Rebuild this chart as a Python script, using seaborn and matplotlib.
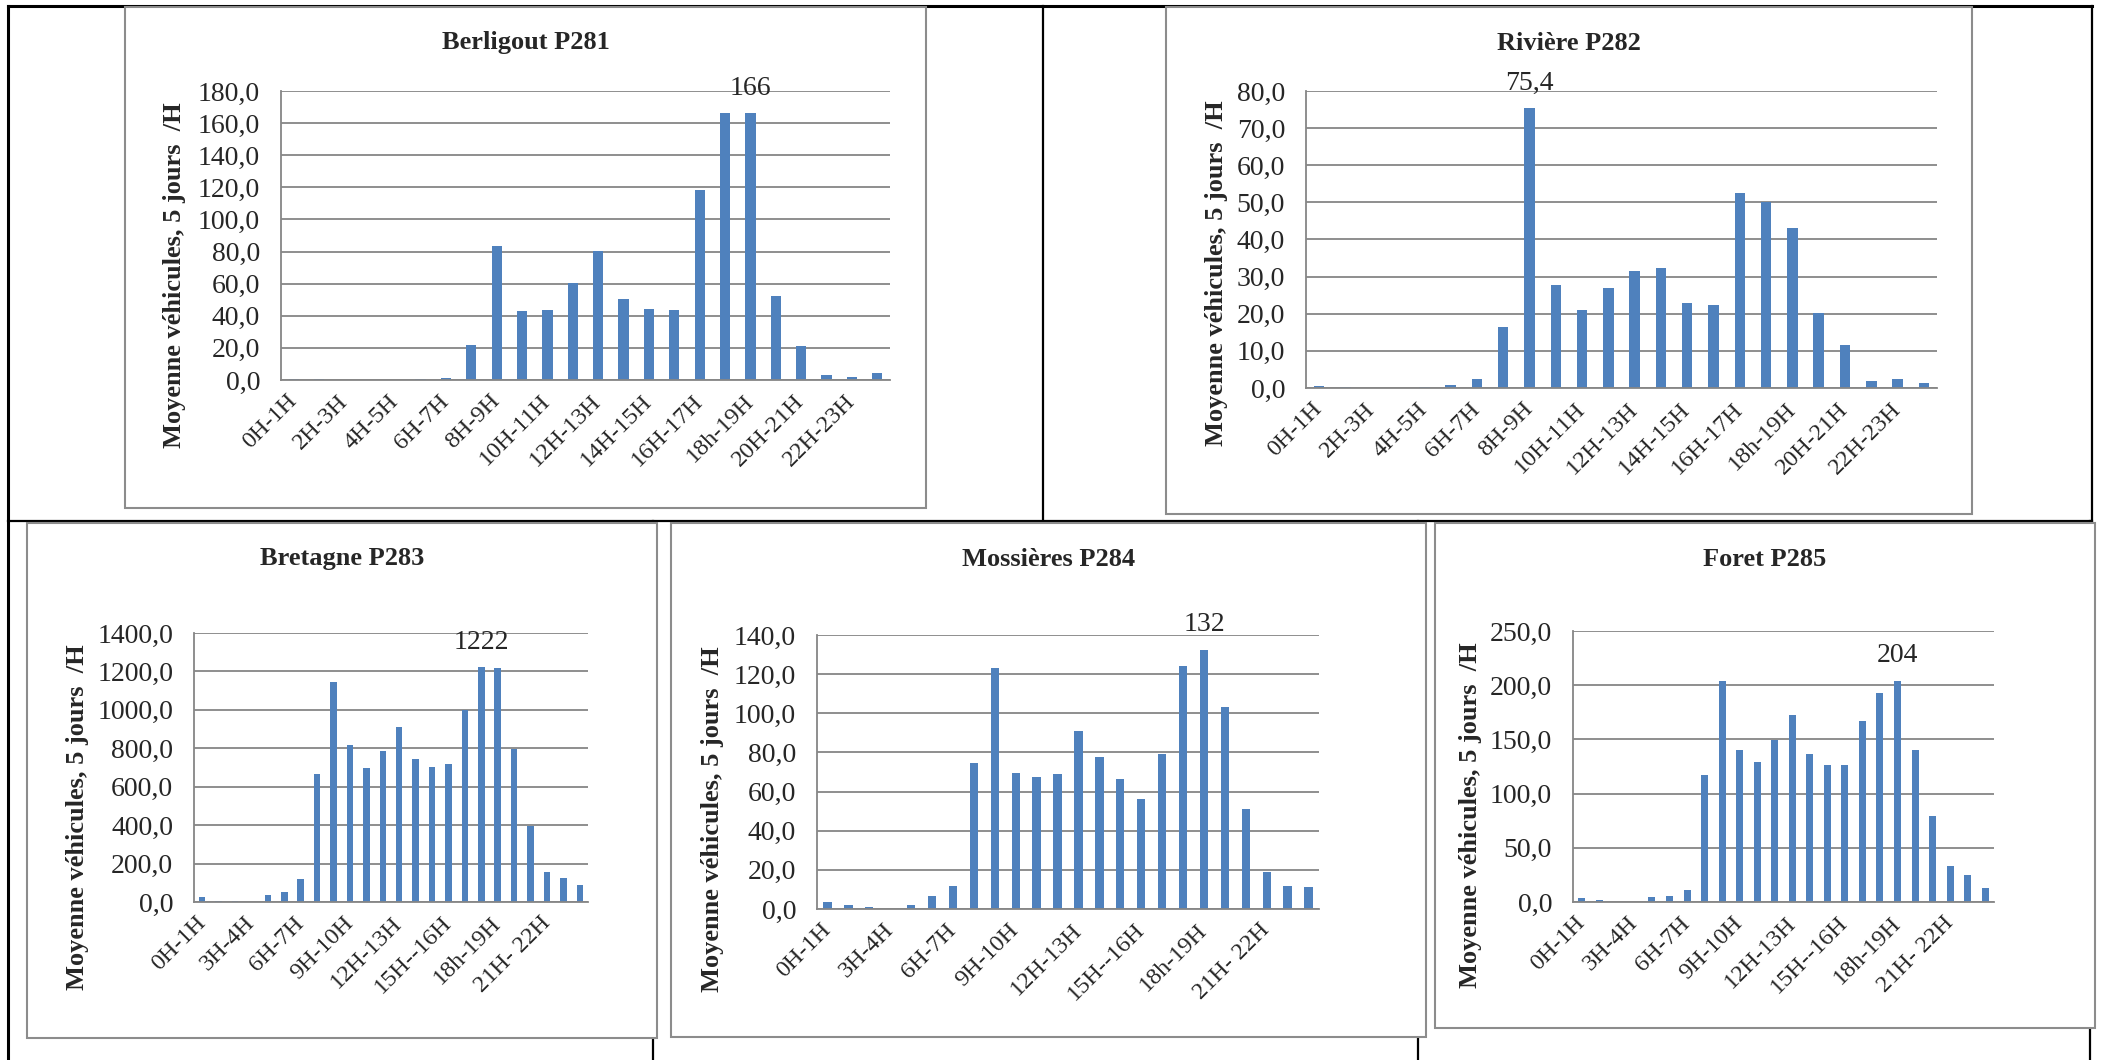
import numpy as np
import pandas as pd
import matplotlib.pyplot as plt
import seaborn as sns
from matplotlib.patches import Rectangle
from matplotlib.lines import Line2D
from matplotlib.ticker import FuncFormatter

#------------------------------------------------
#categories (hour slots)
l_cat_top=['0H-1H','1H-2H','2H-3H','3H-4H','4H-5H','5H-6H','6H-7H','7H-8H',
           '8H-9H','9H-10H','10H-11H','11H-12H','12H-13H','13H-14H','14H-15H','15H-16H',
           '16H-17H','17H-18H','18h-19H','19H-20H','20H-21H','21H-22H','22H-23H','23H-24H']
l_cat_bot=['0H-1H','1H-2H','2H-3H','3H-4H','4H-5H','5H-6H','6H-7H','7H-8H',
           '8H-9H','9H-10H','10H-11H','11H-12H','12H-13H','13H-14H','14H-15H','15H--16H',
           '16H-17H','17H-18H','18h-19H','19H-20H','20H-21H','21H- 22H','22H-23H','23H-24H']

#mean vehicles / hour (5 days)
v_berligout=[0.4,0.4,0,0,0,0.4,1.4,21.5,83.4,42.7,43.4,60.3,
             80.1,50.6,44.0,43.4,118.3,166.0,166.0,52.2,21.3,3.3,2.1,4.3]
v_riviere=[0.5,0.2,0,0,0.2,0.8,2.4,16.5,75.4,27.8,20.9,26.9,
           31.5,32.4,22.8,22.3,52.5,50.0,43.2,20.3,11.5,1.8,2.4,1.4]
v_bretagne=[25,7,4,2,35,54,119,668,1147,815,700,787,
            912,746,704,720,997,1222,1216,798,395,154,124,87]
v_mossieres=[3.6,1.8,1.1,0,2.0,6.4,11.8,74.7,123.0,69.3,67.4,68.9,
             91.1,77.7,66.5,56.1,79.3,124.1,132.5,103.4,51.0,18.8,11.7,11.1]
v_foret=[3.3,2.0,0,0,4.6,5.9,11.2,117.0,203.6,139.8,129.3,149.3,
         172.4,136.8,126.6,126.6,167.1,192.4,204.3,140.5,79.0,32.9,24.7,13.2]

ylab='Moyenne véhicules, 5 jours  /H'
c_bar='#4F81BD'
c_grid='#868686'
W, H=2103, 1060

#########################################################
sns.set_style('white')
plt.rcParams['font.family']=['Liberation Serif', 'DejaVu Serif']

fig=plt.figure(figsize=(W/100, H/100), dpi=100)

def fr(x0, y0, x1, y1):
    return [x0/W, 1-y1/H, (x1-x0)/W, (y1-y0)/H]

def fline(x0, y0, x1, y1, lw):
    fig.add_artist(Line2D([x0/W, x1/W], [1-y0/H, 1-y1/H], transform=fig.transFigure,
                          color='black', lw=lw, zorder=-2, solid_capstyle='projecting'))

#table lines
fline(8, 6, 2092, 6, 2.2)
fline(8, 6, 8, 1060, 2.2)
fline(8, 521, 2092, 521, 1.6)
fline(1043, 6, 1043, 521, 1.6)
fline(2092, 6, 2092, 521, 1.6)
fline(653, 521, 653, 1060, 1.6)
fline(1418, 521, 1418, 1060, 1.6)
fline(2090, 521, 2090, 1060, 1.6)

#------------------------------------------------
def plt_bar(title, l_cat, l_val, ymax, ystep, i_lab, s_lab, n_skip, box_ax, box_fr, xy_ylab):
    #frame
    x0, y0, x1, y1=box_fr
    fig.add_artist(Rectangle((x0/W, 1-y1/H), (x1-x0)/W, (y1-y0)/H, transform=fig.transFigure,
                             facecolor='white', edgecolor='#8c8c8c', lw=1.5, zorder=-1))
    fig.text((x0+x1)/2/W, 1-(y0+36)/H, title, ha='center', va='center', fontsize=19, fontweight='bold')
    fig.text(xy_ylab[0]/W, 1-xy_ylab[1]/H, ylab, rotation=90, ha='center', va='center',
             fontsize=19, fontweight='bold')

    #plot
    ax=fig.add_axes(fr(*box_ax))
    ax.patch.set_alpha(0)
    df=pd.DataFrame({'cat':l_cat, 'val':l_val})
    sns.barplot(data=df, x='cat', y='val', color=c_bar, saturation=1, width=0.4, linewidth=0, ax=ax)

    #adjust
    ax.set_xlim(-0.5, len(l_cat)-0.5)
    ax.set_ylim(0, ymax)
    ax.set_yticks(np.arange(0, ymax+ystep/2, ystep))
    ax.yaxis.set_major_formatter(FuncFormatter(lambda v, p: f'{v:.1f}'.replace('.', ',')))
    ax.yaxis.grid(True, color=c_grid, lw=1.3)
    ax.set_axisbelow(True)
    l_pos=list(range(0, len(l_cat), n_skip))
    ax.set_xticks(l_pos)
    ax.set_xticklabels([l_cat[i] for i in l_pos], rotation=45, ha='right', va='center', rotation_mode='anchor')
    ax.set_xticks(np.arange(-0.5, len(l_cat), 1), minor=True)
    ax.tick_params(axis='x', which='major', length=0, labelsize=17.5, pad=13)
    ax.tick_params(axis='x', which='minor', length=6, width=1.2, color=c_grid, direction='out')
    ax.tick_params(axis='y', length=6, width=1.2, color=c_grid, labelsize=20, pad=9, direction='out')
    for s in ['top', 'right']:
        ax.spines[s].set_visible(False)
    for s in ['left', 'bottom']:
        ax.spines[s].set_color(c_grid)
        ax.spines[s].set_linewidth(1.3)
    ax.set_xlabel('')
    ax.set_ylabel('')

    #peak label
    ax.annotate(s_lab, (i_lab, l_val[i_lab]), xytext=(0, 18), textcoords='offset points',
                ha='center', va='center', fontsize=20)
    return ax


plt_bar('Berligout P281', l_cat_top, v_berligout, 180, 20, 18, '166', 2,
        (281, 91, 890, 380), (125, 7, 926, 508), (174, 275))
plt_bar('Rivière P282', l_cat_top, v_riviere, 80, 10, 8, '75,4', 2,
        (1306, 91, 1937, 388), (1166, 7, 1972, 514), (1216, 273))
plt_bar('Bretagne P283', l_cat_bot, v_bretagne, 1400, 200, 17, '1222', 3,
        (194, 633, 588, 902), (27, 523, 657, 1038), (78, 817))
plt_bar('Mossières P284', l_cat_bot, v_mossieres, 140, 20, 18, '132', 3,
        (817, 635, 1319, 909), (671, 523, 1426, 1037), (713, 819))
plt_bar('Foret P285', l_cat_bot, v_foret, 250, 50, 18, '204', 3,
        (1573, 631, 1994, 902), (1435, 523, 2095, 1028), (1470, 815))

#save
plt.savefig('out.png', dpi=100)
plt.close()
